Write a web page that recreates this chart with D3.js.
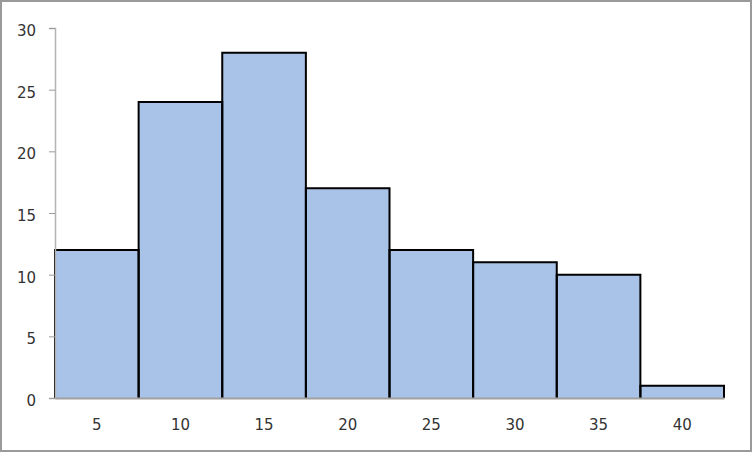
<!DOCTYPE html>
<html>
<head>
<meta charset="utf-8">
<script src="https://cdn.jsdelivr.net/npm/d3@7"></script>
<style>
  body { margin: 0; background: #fff; }
  svg { display: block; }
</style>
</head>
<body>
<svg width="752" height="452"></svg>
<script>
const categories = [5, 10, 15, 20, 25, 30, 35, 40];
const counts = [12, 24, 28, 17, 12, 11, 10, 1];
const yTicks = [0, 5, 10, 15, 20, 25, 30];

const margin = { left: 55, right: 28, top: 28, bottom: 54 };
const svg = d3.select('svg');
const W = 752, H = 452;
const width = W - margin.left - margin.right;
const height = H - margin.top - margin.bottom;

// frame
svg.append('rect')
    .attr('x', 1).attr('y', 1)
    .attr('width', W - 2).attr('height', H - 2)
    .attr('fill', '#fff')
    .attr('stroke', '#9a9a9a')
    .attr('stroke-width', 2);

const x = d3.scaleBand()
    .domain(categories)
    .range([0, width])
    .padding(0);

const y = d3.scaleLinear()
    .domain([0, 30])
    .range([height, 0]);

const g = svg.append('g')
    .attr('transform', `translate(${margin.left},${margin.top})`);

// barras
const data = categories.map((c, i) => ({ cat: c, n: counts[i] }));
g.selectAll('rect.bar')
    .data(data)
    .enter()
    .append('rect')
    .attr('class', 'bar')
    .attr('x', d => x(d.cat))
    .attr('y', d => y(d.n))
    .attr('width', x.bandwidth())
    .attr('height', d => height - y(d.n))
    .attr('fill', '#a9c2e7');

g.selectAll('path.edge')
    .data(data)
    .enter()
    .append('path')
    .attr('class', 'edge')
    .attr('d', d => {
        const x0 = x(d.cat), x1 = x0 + x.bandwidth();
        return `M${x0},${height}V${y(d.n)}H${x1}V${height}`;
    })
    .attr('fill', 'none')
    .attr('stroke', '#000')
    .attr('stroke-width', 2);

const font = 'DejaVu Sans, Verdana, sans-serif';

// eixos
const yAxis = d3.axisLeft(y).tickValues(yTicks).tickSize(6).tickPadding(13);
const gy = g.append('g').call(yAxis);
gy.select('.domain').attr('stroke', '#b4b4b4').attr('stroke-width', 1.5);
gy.selectAll('.tick line').attr('stroke', '#9a9a9a');
gy.selectAll('.tick text')
    .attr('fill', '#333')
    .attr('dy', '0.5em')
    .style('font-family', font)
    .style('font-size', '15px');

const xAxis = d3.axisBottom(x).tickSize(0).tickPadding(21);
const gx = g.append('g')
    .attr('transform', `translate(0,${height})`)
    .call(xAxis);
gx.select('.domain').attr('stroke', '#a0a0a0').attr('stroke-width', 2);
gx.selectAll('.tick text')
    .attr('fill', '#333')
    .style('font-family', font)
    .style('font-size', '15px');
</script>
</body>
</html>
